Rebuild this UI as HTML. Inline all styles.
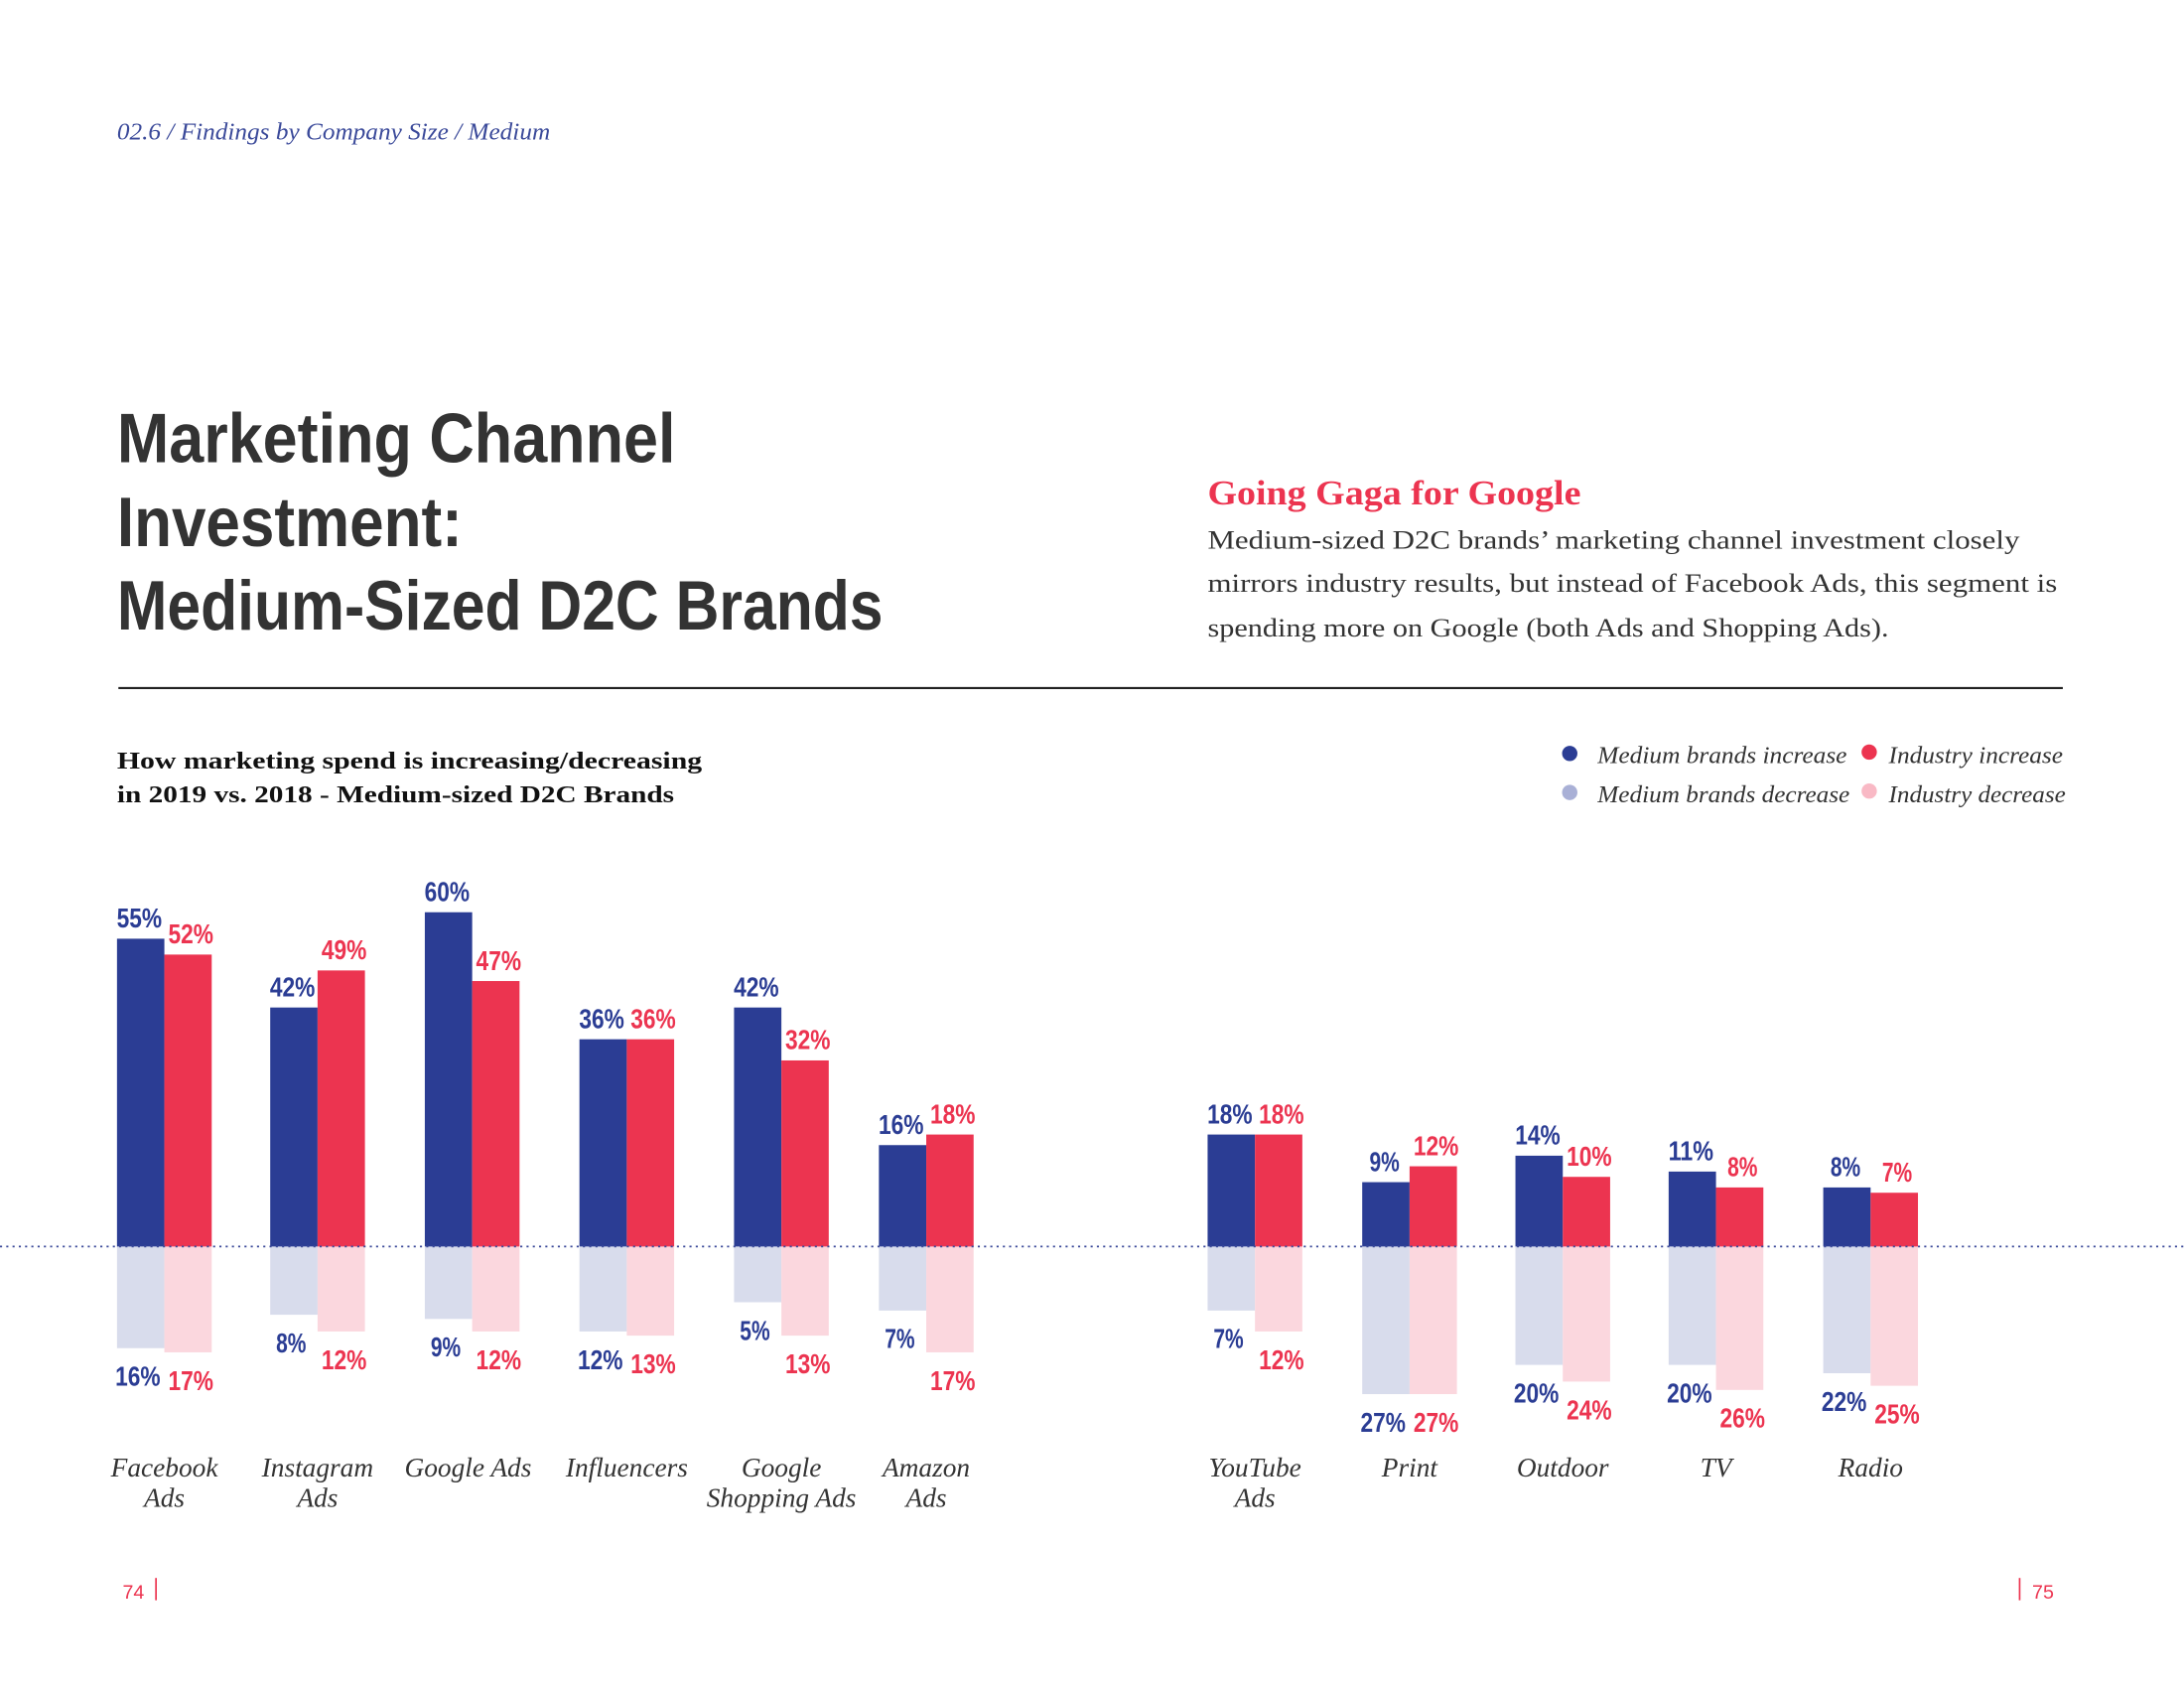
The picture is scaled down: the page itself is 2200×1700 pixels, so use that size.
<!DOCTYPE html>
<html><head><meta charset="utf-8"><style>
html,body{margin:0;padding:0;background:#fff;width:2200px;height:1700px;overflow:hidden}
svg{display:block}
.serif{font-family:"Liberation Serif","DejaVu Serif",serif}
.cond{font-family:"Liberation Sans Narrow","Liberation Sans",sans-serif}
</style></head><body>
<svg id="chart" width="2200" height="1700" viewBox="0 0 1568 1212" preserveAspectRatio="none" xmlns="http://www.w3.org/2000/svg">
<text x="84" y="100" class="serif" font-style="italic" font-size="17" fill="#3b4a9a" textLength="311" lengthAdjust="spacingAndGlyphs">02.6 / Findings by Company Size / Medium</text>
<g class="cond" font-weight="bold" font-size="50" fill="#333">
<text x="84" y="332" textLength="401" lengthAdjust="spacingAndGlyphs">Marketing Channel</text>
<text x="84" y="392" textLength="248" lengthAdjust="spacingAndGlyphs">Investment:</text>
<text x="84" y="452" textLength="550" lengthAdjust="spacingAndGlyphs">Medium-Sized D2C Brands</text>
</g>
<text x="867" y="362" class="serif" font-weight="bold" font-size="25" fill="#ec3450" textLength="268" lengthAdjust="spacingAndGlyphs">Going Gaga for Google</text>
<g class="serif" font-size="18.5" fill="#333">
<text x="867" y="394" textLength="583" lengthAdjust="spacingAndGlyphs">Medium-sized D2C brands’ marketing channel investment closely</text>
<text x="867" y="425" textLength="610" lengthAdjust="spacingAndGlyphs">mirrors industry results, but instead of Facebook Ads, this segment is</text>
<text x="867" y="457" textLength="489" lengthAdjust="spacingAndGlyphs">spending more on Google (both Ads and Shopping Ads).</text>
</g>
<line x1="85" y1="494" x2="1481" y2="494" stroke="#222" stroke-width="1.5"/>
<g class="serif" font-weight="bold" font-size="17.5" fill="#111">
<text x="84" y="552" textLength="420" lengthAdjust="spacingAndGlyphs">How marketing spend is increasing/decreasing</text>
<text x="84" y="576" textLength="400" lengthAdjust="spacingAndGlyphs">in 2019 vs. 2018 - Medium-sized D2C Brands</text>
</g>
<g class="serif" font-style="italic" font-size="17" fill="#333">
<circle cx="1127" cy="541" r="5.5" fill="#2b3d94"/>
<text x="1147" y="548" textLength="179" lengthAdjust="spacingAndGlyphs">Medium brands increase</text>
<circle cx="1342" cy="540" r="5.5" fill="#ec3450"/>
<text x="1356" y="548" textLength="125" lengthAdjust="spacingAndGlyphs">Industry increase</text>
<circle cx="1127" cy="569" r="5.5" fill="#a9b0d6"/>
<text x="1147" y="576" textLength="181" lengthAdjust="spacingAndGlyphs">Medium brands decrease</text>
<circle cx="1342" cy="568" r="5.5" fill="#f9b9c5"/>
<text x="1356" y="576" textLength="127" lengthAdjust="spacingAndGlyphs">Industry decrease</text>
</g>
<g id="bars"></g>
<line x1="0" y1="895" x2="1568" y2="895" stroke="#3b4a9a" stroke-width="1.2" stroke-dasharray="1.5 3"/>
<g id="labels"></g>
<text x="88" y="1148" class="cond" font-size="14" fill="#ec3450">74</text>
<line x1="112" y1="1133" x2="112" y2="1149" stroke="#ec3450" stroke-width="1.2"/>
<line x1="1450" y1="1133" x2="1450" y2="1149" stroke="#ec3450" stroke-width="1.2"/>
<text x="1459" y="1148" class="cond" font-size="14" fill="#ec3450">75</text>
</svg>
<script>
const categories = [["Facebook","Ads"],["Instagram","Ads"],["Google Ads"],["Influencers"],["Google","Shopping Ads"],["Amazon","Ads"],["YouTube","Ads"],["Print"],["Outdoor"],["TV"],["Radio"]];
const mediumIncrease = [55,42,60,36,42,16,18,9,14,11,8];
const industryIncrease = [52,49,47,36,32,18,18,12,10,8,7];
const mediumDecrease = [16,8,9,12,5,7,7,27,20,20,22];
const industryDecrease = [17,12,12,13,13,17,12,27,24,26,25];
const groupLeft = [84,194,305,416,527,631,867,978,1088,1198,1309];

const NS = "http://www.w3.org/2000/svg";
const base = 895, bw = 34;
const yUp = v => base - (12 + v * 3.8);
const yDown = v => base + (25 + v * 3);
const bars = document.getElementById('bars');
const labels = document.getElementById('labels');
function rect(x, y, h, fill, name) {
  const r = document.createElementNS(NS, 'rect');
  r.setAttribute('x', x); r.setAttribute('y', y); r.setAttribute('width', bw); r.setAttribute('height', Math.max(h, 0)); r.setAttribute('fill', fill);
  
  
  bars.appendChild(r);
}
function text(x, y, s, fill, name, opts) {
  const t = document.createElementNS(NS, 'text');
  t.setAttribute('x', x); t.setAttribute('y', y); t.setAttribute('text-anchor', 'middle');
  t.setAttribute('fill', fill);
  if (opts === 'cat') { t.setAttribute('class', 'serif'); t.setAttribute('font-style', 'italic'); t.setAttribute('font-size', '19.5'); }
  else {
    t.setAttribute('class', 'cond'); t.setAttribute('font-weight', 'bold'); t.setAttribute('font-size', '20');
    t.setAttribute('textLength', s.length * 10.8);
    t.setAttribute('lengthAdjust', 'spacingAndGlyphs');
  }
  t.textContent = s;
  
  
  labels.appendChild(t);
}
categories.forEach((c, i) => {
  const x0 = groupLeft[i], x1 = x0 + bw;
  rect(x0, base, yDown(mediumDecrease[i]) - base, '#d8dcec', 'bar-medium-decrease');
  rect(x1, base, yDown(industryDecrease[i]) - base, '#fbd7de', 'bar-industry-decrease');
  rect(x0, yUp(mediumIncrease[i]), base - yUp(mediumIncrease[i]), '#2b3d94', 'bar-medium-increase');
  rect(x1, yUp(industryIncrease[i]), base - yUp(industryIncrease[i]), '#ec3450', 'bar-industry-increase');
  text(x0 + bw/2 - 1, yUp(mediumIncrease[i]) - 8, mediumIncrease[i] + '%', '#2b3d94', 'label-medium-increase');
  text(x1 + bw/2 + 2, yUp(industryIncrease[i]) - 8, industryIncrease[i] + '%', '#ec3450', 'label-industry-increase');
  text(x0 + bw/2 - 2, yDown(mediumDecrease[i]) + 27, mediumDecrease[i] + '%', '#2b3d94', 'label-medium-decrease');
  text(x1 + bw/2 + 2, yDown(industryDecrease[i]) + 27, industryDecrease[i] + '%', '#ec3450', 'label-industry-decrease');
  c.forEach((line, k) => text(x1 + (i===2?-3:0), 1060 + k * 22, line, '#333', 'category-label', 'cat'));
});
</script>
</body></html>
